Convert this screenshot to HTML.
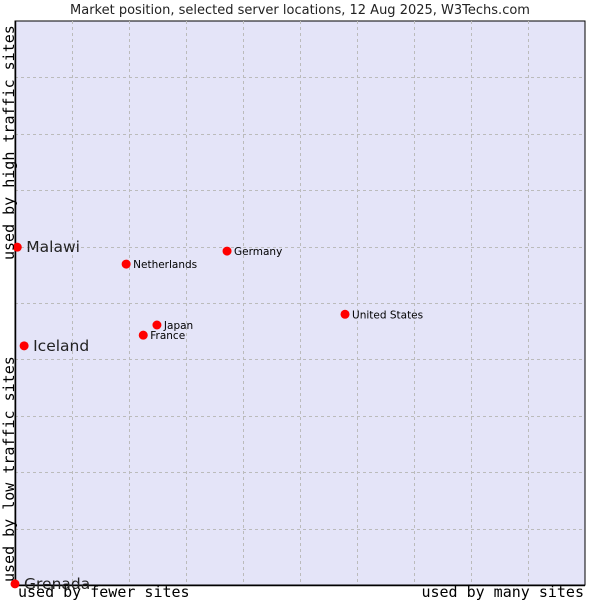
<!DOCTYPE html>
<html><head><meta charset="utf-8"><style>
body{margin:0;background:#fff;}
svg{display:block;}
</style></head><body>
<svg id="chart" width="600" height="600" xmlns="http://www.w3.org/2000/svg" font-family="'DejaVu Sans','Liberation Sans',sans-serif">
<text x="300" y="14" text-anchor="middle" font-size="13" fill="#222">Market position, selected server locations, 12 Aug 2025, W3Techs.com</text>
<rect x="15" y="21" width="570" height="564" fill="#e4e4f8" stroke="#000" stroke-width="1"/>
<g id="grid"></g>
<line x1="15.5" y1="21" x2="15.5" y2="585" stroke="#000" stroke-width="1.5"/>
<line x1="15" y1="585.5" x2="585" y2="585.5" stroke="#000" stroke-width="1.5"/>
<g id="points"></g>
<text x="18" y="597" font-family="'DejaVu Sans Mono','Liberation Mono',monospace" font-size="15" fill="#000">used by fewer sites</text>
<text x="584" y="597" text-anchor="end" font-family="'DejaVu Sans Mono','Liberation Mono',monospace" font-size="15" fill="#000">used by many sites</text>
<text transform="translate(14,582) rotate(-90)" font-family="'DejaVu Sans Mono','Liberation Mono',monospace" font-size="15" fill="#000">used by low traffic sites</text>
<text transform="translate(14,260) rotate(-90)" font-family="'DejaVu Sans Mono','Liberation Mono',monospace" font-size="15" fill="#000">used by high traffic sites</text>
</svg>
<script>
const countries = ["Malawi","Iceland","Grenada","Netherlands","Germany","United States","Japan","France"];
const xValues = [0.4,1.6,0.0,19.5,37.2,57.9,24.9,22.5];
const yValues = [59.9,42.4,0.2,56.9,59.2,48.0,46.1,44.3];
const bigLabel = [true,true,true,false,false,false,false,false];
const NS="http://www.w3.org/2000/svg";
const X0=15,X1=585,Y0=585,Y1=21;
function xs(v){return X0+(X1-X0)*v/100;}
function ys(v){return Y0-(Y0-Y1)*v/100;}
const grid=document.getElementById('grid');
for(let i=1;i<10;i++){
  const v=document.createElementNS(NS,'line');
  
  
  const x=Math.round(xs(i*10))+0.5;
  v.setAttribute('x1',x);v.setAttribute('x2',x);v.setAttribute('y1',Y1);v.setAttribute('y2',Y0);
  v.setAttribute('stroke','#bbb');v.setAttribute('stroke-dasharray','3,3');
  grid.appendChild(v);
  const h=document.createElementNS(NS,'line');
  
  
  const y=Math.round(ys(i*10))+0.5;
  h.setAttribute('x1',X0);h.setAttribute('x2',X1);h.setAttribute('y1',y);h.setAttribute('y2',y);
  h.setAttribute('stroke','#bbb');h.setAttribute('stroke-dasharray','3,3');
  grid.appendChild(h);
}
const pts=document.getElementById('points');
countries.forEach((c,i)=>{
  const x=xs(xValues[i]),y=ys(yValues[i]);
  const d=document.createElementNS(NS,'circle');
  
  
  d.setAttribute('cx',x);d.setAttribute('cy',y);d.setAttribute('r',4.5);d.setAttribute('fill','#f00');
  pts.appendChild(d);
  const t=document.createElementNS(NS,'text');
  
  
  t.setAttribute('x',x+(bigLabel[i]?9:7));
  t.setAttribute('y',y+(bigLabel[i]?5:4));
  t.setAttribute('font-size',bigLabel[i]?15.5:10.5);
  t.setAttribute('fill',bigLabel[i]?'#222':'#000');
  t.textContent=c;
  pts.appendChild(t);
});
</script>
</body></html>
